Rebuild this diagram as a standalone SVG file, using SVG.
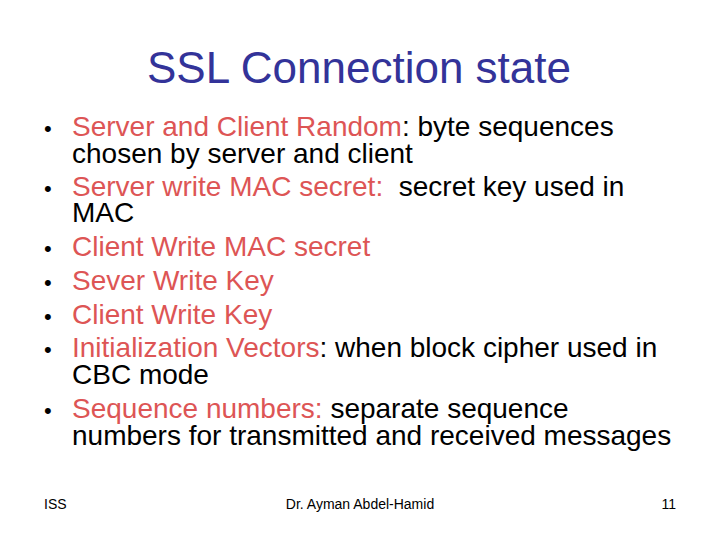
<svg xmlns="http://www.w3.org/2000/svg" width="720" height="540" viewBox="0 0 720 540">
<style>
text{font-family:"Liberation Sans",Arial,sans-serif}
.t{font-size:44px;fill:#333399}
.b{font-size:28px;fill:#000}
.d{font-size:22px}
.r{fill:#DD5555}
.f{font-size:14px;fill:#000}
</style>
<rect width="720" height="540" fill="#fff"/>
<text class="t" x="359" y="83" text-anchor="middle">SSL Connection state</text>
<g class="b">
<text class="d" x="44" y="136">•</text>
<text x="72" y="136"><tspan class="r">Server and Client Random</tspan>: byte sequences</text>
<text x="72" y="163">chosen by server and client</text>
<text class="d" x="44" y="196">•</text>
<text x="72" y="196" xml:space="preserve"><tspan class="r">Server write MAC secret:</tspan>  secret key used in</text>
<text x="72" y="222">MAC</text>
<text class="d" x="44" y="256">•</text>
<text x="72" y="256" class="r">Client Write MAC secret</text>
<text class="d" x="44" y="290">•</text>
<text x="72" y="290" class="r">Sever Write Key</text>
<text class="d" x="44" y="324">•</text>
<text x="72" y="324" class="r">Client Write Key</text>
<text class="d" x="44" y="357">•</text>
<text x="72" y="357"><tspan class="r">Initialization Vectors</tspan>: when block cipher used in</text>
<text x="72" y="384">CBC mode</text>
<text class="d" x="44" y="418">•</text>
<text x="72" y="418"><tspan class="r">Sequence numbers:</tspan> separate sequence</text>
<text x="72" y="445">numbers for transmitted and received messages</text>
</g>
<text class="f" x="44" y="509">ISS</text>
<text class="f" x="360" y="509" text-anchor="middle">Dr. Ayman Abdel-Hamid</text>
<text class="f" x="676" y="509" text-anchor="end">11</text>
</svg>
